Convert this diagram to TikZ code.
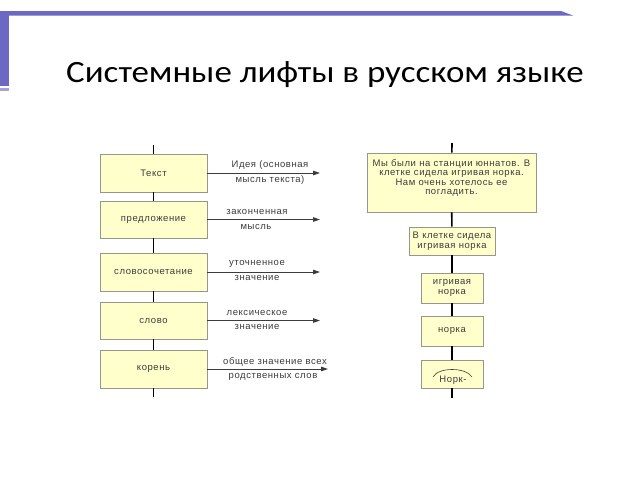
\documentclass[tikz,border=0pt]{standalone}
\usepackage{graphicx}
\usepackage{fontspec}
\setmainfont{Liberation Sans}
\newfontfamily\diagfont[LetterSpace=6]{Liberation Sans}
\newfontfamily\titlefont{Carlito}
\usetikzlibrary{arrows.meta}
\definecolor{framec}{RGB}{108,104,196}
\definecolor{framelt}{RGB}{165,162,222}
\definecolor{boxfill}{RGB}{255,255,204}
\definecolor{boxedge}{RGB}{150,150,140}
\definecolor{txt}{RGB}{60,60,60}
\begin{document}
\begin{tikzpicture}[x=1pt,y=-1pt,
  box/.style={draw=boxedge, line width=0.8pt, fill=boxfill, inner sep=0pt, align=center, font=\diagfont\fontsize{9.5}{10.5}\selectfont, text=txt},
  spine/.style={line width=1.6pt, draw=black},
  lbl/.style={font=\diagfont\fontsize{9.5}{10.5}\selectfont, text=txt, inner sep=0pt, align=center},
  arr/.style={line width=0.9pt, draw=txt, -{Triangle[length=7pt,width=4.5pt]}}]
\fill[white] (0,0) rectangle (640,480);
\useasboundingbox (0,0) rectangle (640,480);
% frame
\fill[framec] (0,11) -- (561,11) -- (573,15.5) -- (0,15.5) -- cycle;
\fill[framec] (0,11) rectangle (8.5,86);
\fill[framelt] (0,87.5) rectangle (9,90.5);
% title
\node[anchor=base west, inner sep=0pt, font=\titlefont\fontsize{31}{34}\selectfont] (title) at (66,82) {\scalebox{1.127}[1]{Системные лифты в русском языке}};
% left column
\node[box, minimum width=107pt, minimum height=38pt] (b1) at (153.5,173) {Текст};
\node[box, minimum width=107pt, minimum height=37pt] (b2) at (153.5,219.5) {предложение};
\node[box, minimum width=107pt, minimum height=38pt] (b3) at (153.5,272) {словосочетание};
\node[box, minimum width=107pt, minimum height=37pt] (b4) at (153.5,320.5) {слово};
\node[box, minimum width=107pt, minimum height=38pt] (b5) at (153.5,369) {корень};
\coordinate (lt) at (153.5,145);
\coordinate (lb) at (153.5,397);
\draw[spine] (lt) -- (b1);
\draw[spine] (b1) -- (b2);
\draw[spine] (b2) -- (b3);
\draw[spine] (b3) -- (b4);
\draw[spine] (b4) -- (b5);
\draw[spine] (b5) -- (lb);
% arrows
\coordinate (a1) at (320,173);
\coordinate (a2) at (320,219.5);
\coordinate (a3) at (320,272);
\coordinate (a4) at (320,320.5);
\coordinate (a5) at (328,369);
\draw[arr] (b1.east) -- (a1);
\draw[arr] (b2.east) -- (a2);
\draw[arr] (b3.east) -- (a3);
\draw[arr] (b4.east) -- (a4);
\draw[arr] (b5.east) -- (a5);
% labels
\node[lbl] (l1a) at (270,165) {Идея (основная};
\node[lbl] (l1b) at (270,180) {мысль текста)};
\node[lbl] (l2a) at (257,212) {законченная};
\node[lbl] (l2b) at (256,227) {мысль};
\node[lbl] (l3a) at (257,264) {уточненное};
\node[lbl] (l3b) at (257,278) {значение};
\node[lbl] (l4a) at (257,313) {лексическое};
\node[lbl] (l4b) at (257,327) {значение};
\node[lbl] (l5a) at (275,362) {общее значение всех};
\node[lbl] (l5b) at (273,377) {родственных слов};
% right column
\node[box, minimum width=169pt, minimum height=59pt] (r1) at (451.5,182.5) {};
\node[lbl, font=\diagfont\fontsize{9.5}{9.6}\selectfont] (r1t) at (451.5,178) {Мы были на станции юннатов. В\\клетке сидела игривая норка.\\Нам очень хотелось ее\\погладить.};
\node[box, minimum width=86pt, minimum height=28pt] (r2) at (452,241) {В клетке сидела\\игривая норка};
\node[box, minimum width=62pt, minimum height=30pt] (r3) at (452,288) {игривая\\норка};
\node[box, minimum width=62pt, minimum height=30pt] (r4) at (452,331) {норка};
\node[box, minimum width=62pt, minimum height=28pt] (r5) at (452,374) {};
\node[lbl] (r5t) at (453,380) {Норк-};
\draw[txt, line width=0.6pt] (433,377) .. controls (438,367) and (466,367) .. (472,377);
\coordinate (rt) at (452,143);
\coordinate (rb) at (452,398);
\draw[spine] (rt) -- (r1);
\draw[spine] (r1) -- (r2);
\draw[spine] (r2) -- (r3);
\draw[spine] (r3) -- (r4);
\draw[spine] (r4) -- (r5);
\draw[spine] (r5) -- (rb);
\end{tikzpicture}
\end{document}
